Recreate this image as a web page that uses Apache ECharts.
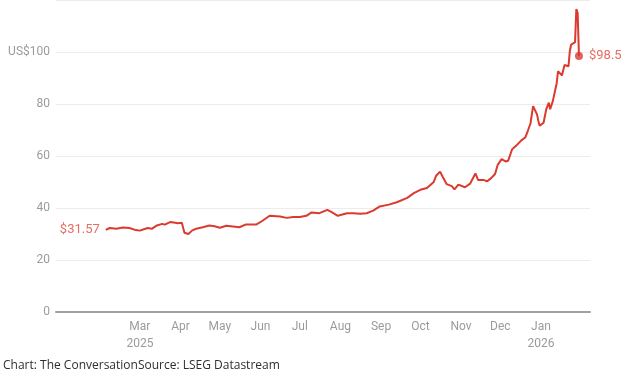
<!DOCTYPE html>
<html>
<head>
<meta charset="utf-8">
<script src="https://cdn.jsdelivr.net/npm/echarts@6/dist/echarts.min.js"></script>
<style>
  html, body { margin: 0; padding: 0; background: #ffffff; }
  #chart { width: 626px; height: 381px; }
</style>
</head>
<body>
<div id="chart"></div>
<script>
// ---- Data ----
const dates = [
  '2025-02-03','2025-02-06','2025-02-11','2025-02-16','2025-02-21','2025-02-26',
  '2025-03-01','2025-03-04','2025-03-07','2025-03-10','2025-03-14','2025-03-18','2025-03-20','2025-03-24','2025-03-28','2025-03-30',
  '2025-04-02','2025-04-04','2025-04-07','2025-04-10','2025-04-13','2025-04-18','2025-04-23','2025-04-27',
  '2025-05-01','2025-05-06','2025-05-11','2025-05-16','2025-05-21','2025-05-29',
  '2025-06-02','2025-06-08','2025-06-16','2025-06-21','2025-06-26',
  '2025-07-01','2025-07-06','2025-07-10','2025-07-16','2025-07-22','2025-07-25','2025-07-30',
  '2025-08-06','2025-08-11','2025-08-16','2025-08-21','2025-08-26','2025-08-31',
  '2025-09-07','2025-09-13','2025-09-21','2025-09-26',
  '2025-10-01','2025-10-06','2025-10-11','2025-10-13','2025-10-16','2025-10-18','2025-10-21','2025-10-25','2025-10-27','2025-10-30',
  '2025-11-04','2025-11-08','2025-11-12','2025-11-14','2025-11-18','2025-11-21','2025-11-24','2025-11-27','2025-11-29',
  '2025-12-02','2025-12-05','2025-12-07','2025-12-10','2025-12-13','2025-12-17','2025-12-20','2025-12-22','2025-12-24','2025-12-26','2025-12-29','2025-12-30','2025-12-31',
  '2026-01-03','2026-01-05','2026-01-07','2026-01-08','2026-01-10','2026-01-13','2026-01-14','2026-01-17','2026-01-19','2026-01-22','2026-01-23','2026-01-24','2026-01-27','2026-01-28','2026-01-29','2026-01-30'
];
const prices = [
  31.57,32.3,32.0,32.5,32.3,31.5,
  31.3,31.8,32.3,32.0,33.3,33.9,33.6,34.6,34.3,34.1,
  34.3,30.5,30.0,31.4,32.0,32.6,33.3,33.0,
  32.4,33.2,32.9,32.6,33.7,33.7,
  34.9,37.0,36.7,36.2,36.5,
  36.5,37.0,38.3,38.0,39.3,38.5,37.0,
  38.0,38.0,37.8,38.0,39.0,40.6,
  41.3,42.2,43.9,45.7,
  47.0,47.7,49.9,52.4,54.0,52.0,49.2,48.4,47.2,49.0,
  48.0,49.4,53.3,50.8,50.8,50.3,51.5,53.1,56.6,
  58.8,57.9,58.2,62.6,63.9,66.0,67.1,69.7,72.5,79.2,76.0,73.5,71.6,
  72.8,77.9,80.5,78.0,81.0,88.0,92.6,91.0,95.0,94.5,100.3,102.8,103.8,116.5,115.0,98.5
];
const tickMonths = ['2025-03-01','2025-04-01','2025-05-01','2025-06-01','2025-07-01','2025-08-01','2025-09-01','2025-10-01','2025-11-01','2025-12-01','2026-01-01'];
const tickLabels = ['Mar\n2025','Apr','May','Jun','Jul','Aug','Sep','Oct','Nov','Dec','Jan\n2026'];
const yTicks = [0, 20, 40, 60, 80, 100];
const yTickLabels = ['0', '20', '40', '60', '80', 'US$100'];
const axisStart = '2024-12-27';
const axisEnd = '2026-02-07T10:00:00';
const footerText = 'Chart: The ConversationSource: LSEG Datastream';

// ---- Helpers ----
const ts = s => new Date(s.length <= 10 ? s + 'T00:00:00' : s).getTime();
const seriesData = dates.map((d, i) => [ts(d), prices[i]]);
const tickTs = tickMonths.map(ts);
const first = seriesData[0];
const last = seriesData[seriesData.length - 1];

const RED = '#db3a2e';
const LABEL_RED = '#e0483b';
const GREY = '#9b9b9b';

const chart = echarts.init(document.getElementById('chart'), null, { renderer: 'canvas' });
chart.setOption({
  animation: false,
  backgroundColor: '#ffffff',
  grid: { left: 56, right: 36, top: -1.6, bottom: 69, containLabel: false },
  xAxis: {
    type: 'value',
    min: ts(axisStart),
    max: ts(axisEnd),
    axisLine: { show: true, onZero: false, lineStyle: { color: '#a0a0a0', width: 2 } },
    axisTick: { show: false },
    splitLine: { show: false },
    axisLabel: {
      customValues: tickTs,
      formatter: function (v) {
        let best = -1, bd = Infinity;
        tickTs.forEach((t, i) => { const d = Math.abs(t - v); if (d < bd) { bd = d; best = i; } });
        return bd < 86400000 ? tickLabels[best] : '';
      },
      color: GREY,
      fontFamily: 'Roboto',
      fontSize: 12,
      lineHeight: 17,
      margin: 6,
      hideOverlap: false,
      showMinLabel: true,
      showMaxLabel: true
    }
  },
  yAxis: {
    type: 'value',
    min: 0,
    max: 120,
    interval: 20,
    axisLine: { show: false },
    axisTick: { show: false },
    splitLine: { show: true, lineStyle: { color: '#ececec', width: 1 } },
    axisLabel: {
      formatter: function (v) {
        const idx = yTicks.indexOf(v);
        return idx >= 0 ? yTickLabels[idx] : '';
      },
      color: GREY,
      fontFamily: 'Roboto',
      fontSize: 12,
      margin: 6
    }
  },
  series: [
    {
      type: 'line',
      data: seriesData,
      showSymbol: false,
      symbol: 'none',
      lineStyle: { color: RED, width: 2 },
      z: 3
    },
    {
      type: 'scatter',
      data: [
        { value: first, symbolSize: 0, label: { show: true, position: 'left', distance: 6, formatter: '$' + first[1].toFixed(2) } },
        { value: last, symbolSize: 8, label: { show: true, position: 'right', distance: 6, formatter: '$' + last[1] } }
      ],
      itemStyle: { color: RED },
      label: { color: LABEL_RED, fontFamily: 'Roboto', fontSize: 13 },
      z: 4
    }
  ],
  graphic: [
    {
      type: 'text',
      left: 3,
      top: 360,
      style: { text: footerText, fill: '#2e2e2e', font: '12px "Open Sans"' }
    }
  ]
});
</script>
</body>
</html>
